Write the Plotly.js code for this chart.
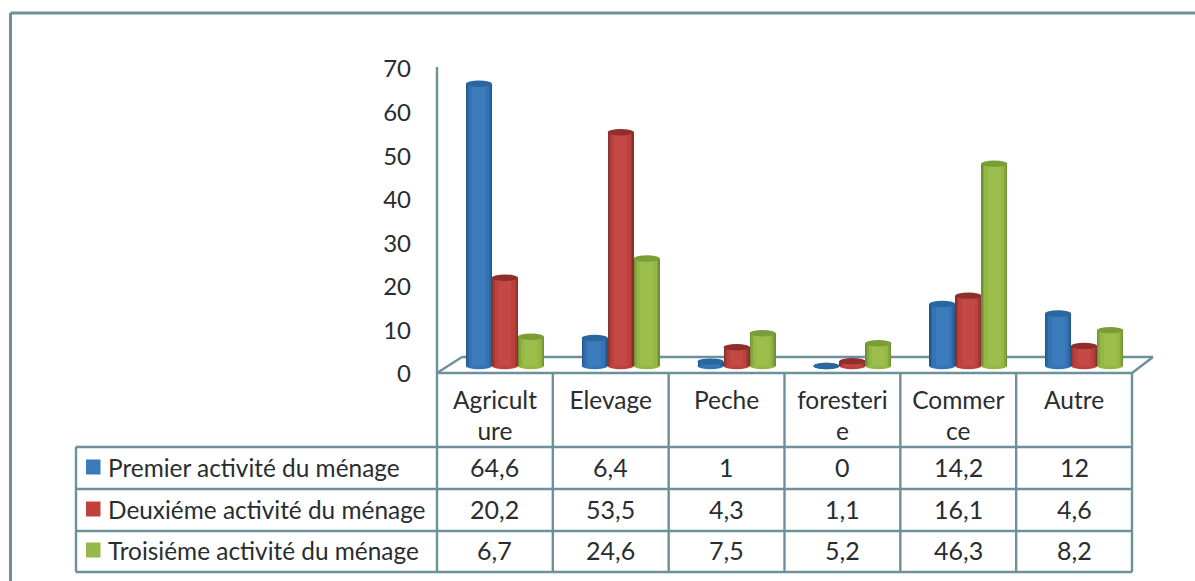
<!DOCTYPE html>
<html>
<head>
<meta charset="utf-8">
<script src="https://cdn.plot.ly/plotly-3.0.1.min.js"></script>
<style>html,body{margin:0;padding:0;background:#fff}#chart{width:1195px;height:581px}</style>
</head>
<body>
<div id="chart"></div>
<script>
// ---- chart data ----
const categories = ["Agricult<br>ure", "Elevage", "Peche", "foresteri<br>e", "Commer<br>ce", "Autre"];
const seriesNames = ["Premier activité du ménage", "Deuxiéme activité du ménage", "Troisiéme activité du ménage"];
const premier = [64.6, 6.4, 1, 0, 14.2, 12];
const deuxieme = [20.2, 53.5, 4.3, 1.1, 16.1, 4.6];
const troisieme = [6.7, 24.6, 7.5, 5.2, 46.3, 8.2];
const yTicks = [0, 10, 20, 30, 40, 50, 60, 70];

// ---- styles ----
const edgeBlue = ["#25568a", "#2c66a0", "#3574b4", "#3c7cbd"];
const edgeRed = ["#87302d", "#a53835", "#bb413d", "#c44844"];
const edgeGreen = ["#6f9134", "#84a73c", "#94b845", "#9bbf4a"];
const capColors = ["#2a66a0", "#8f2f2c", "#7a9e37"];
const swatches = ["#3a7abb", "#c0403c", "#96ba47"];
const lineColor = "#6d909b";
const textColor = "#2a2d2f";
const fontFamily = "Lato, sans-serif";

// ---- geometry helpers (pixel to paper) ----
const L = 437, R = 1132, T = 60, B = 380;
const X = p => (p - L) / (R - L);
const Y = p => (B - p) / (B - T);
const tickScale = 4.357, tickZeroPx = 374;
const pxPerUnit = 4.37, barZeroPx = 366;
const catW = (R - L) / 6;
const barW = 26 / catW;
const groupShift = 10 / catW;

const xIdx = categories.map((_, i) => i);
const seriesVals = [premier, deuxieme, troisieme];
const ramps = [edgeBlue, edgeRed, edgeGreen];
const layerFrac = [1, 0.9, 0.76, 0.5];

const traces = [{
  x: xIdx, y: xIdx.map(() => 0), type: "scatter", mode: "markers",
  marker: {opacity: 0, size: 1}, xaxis: "x", yaxis: "y", showlegend: false, hoverinfo: "skip"
}];

const floorLine = (x0, y0, x1, y1, w) => ({
  type: "line", xref: "paper", yref: "paper", layer: "below",
  x0: X(x0), y0: Y(y0), x1: X(x1), y1: Y(y1),
  line: {color: lineColor, width: w || 2.4}
});

const shapes = [
  floorLine(10.5, 13, 1195, 13, 3),
  floorLine(10.5, 13, 10.5, 581, 3),
  floorLine(437, 67, 437, 373),
  floorLine(437, 373, 1132, 373),
  floorLine(437, 373, 462, 357),
  floorLine(462, 357, 1153, 357),
  floorLine(1132, 373, 1153, 357),
  floorLine(76, 447, 1132, 447),
  floorLine(76, 489, 1132, 489),
  floorLine(76, 531, 1132, 531),
  floorLine(76, 572, 1132, 572),
  floorLine(76, 447, 76, 572)
];
for (let i = 0; i <= 6; i++) {
  const vx = L + i * catW;
  shapes.push(floorLine(vx, 373, vx, 572));
}

const capHalfX = 0.5 * barW;
const capHalfY = 3.2 / pxPerUnit;
seriesVals.forEach((vals, s) => {
  const center = i => i + groupShift + (s - 1) * barW;
  layerFrac.forEach((f, k) => {
    traces.push({
      type: "bar", x: xIdx, y: vals, xaxis: "x", yaxis: "y2",
      width: xIdx.map(() => barW * f),
      offset: xIdx.map(() => groupShift + (s - 1) * barW - barW * f / 2),
      marker: {color: ramps[s][k], line: {width: 0}},
      name: seriesNames[s], showlegend: false, hoverinfo: k === 0 ? "y+name" : "skip"
    });
  });
  vals.forEach((v, i) => {
    shapes.push({
      type: "circle", xref: "x", yref: "y2", layer: "below",
      x0: center(i) - capHalfX, x1: center(i) + capHalfX,
      y0: -capHalfY, y1: capHalfY,
      fillcolor: ramps[s][2], line: {width: 0}
    });
    shapes.push({
      type: "circle", xref: "x", yref: "y2", layer: "above",
      x0: center(i) - capHalfX, x1: center(i) + capHalfX,
      y0: v - capHalfY, y1: v + capHalfY,
      fillcolor: capColors[s], line: {width: 0}
    });
  });
});

const annotations = [];
const rowY = [467, 509, 550];
seriesNames.forEach((name, s) => {
  shapes.push({
    type: "rect", xref: "paper", yref: "paper", layer: "above",
    x0: X(86), x1: X(100.5), y0: Y(rowY[s] - 7.5), y1: Y(rowY[s] + 7.5),
    fillcolor: swatches[s], line: {width: 0}
  });
  annotations.push({
    xref: "paper", yref: "paper", x: X(106), y: Y(rowY[s]),
    xanchor: "left", yanchor: "middle", showarrow: false, text: name,
    font: {family: fontFamily, size: 24.4, color: textColor}
  });
  seriesVals[s].forEach((v, i) => {
    annotations.push({
      xref: "paper", yref: "paper", x: X(L + (i + 0.5) * catW), y: Y(rowY[s]),
      xanchor: "center", yanchor: "middle", showarrow: false,
      text: String(v).replace(".", ","),
      font: {family: fontFamily, size: 25, color: textColor}
    });
  });
});

const layout = {
  width: 1195, height: 581,
  margin: {l: L, r: 1195 - R, t: T, b: 581 - B, pad: 0},
  paper_bgcolor: "#ffffff", plot_bgcolor: "rgba(0,0,0,0)",
  barmode: "overlay", showlegend: false, bargap: 0,
  font: {family: fontFamily, color: textColor},
  xaxis: {
    range: [-0.5, 5.5], tickmode: "array", tickvals: xIdx, ticktext: categories,
    showgrid: false, zeroline: false, showline: false, ticks: "",
    tickangle: 0, ticklabelstandoff: 3, ticklabelposition: "outside",
    tickfont: {family: fontFamily, size: 24.5, color: textColor}, fixedrange: true
  },
  yaxis: {
    range: [(tickZeroPx - B) / tickScale, (tickZeroPx - T) / tickScale],
    tickmode: "array", tickvals: yTicks, ticktext: yTicks.map(String),
    showgrid: false, zeroline: false, showline: false, ticks: "",
    ticklabelstandoff: 25,
    tickfont: {family: fontFamily, size: 24, color: textColor}, fixedrange: true
  },
  yaxis2: {
    range: [(barZeroPx - B) / pxPerUnit, (barZeroPx - T) / pxPerUnit],
    overlaying: "y", side: "left", showticklabels: false,
    showgrid: false, zeroline: false, showline: false, ticks: "", fixedrange: true
  },
  shapes: shapes,
  annotations: annotations
};

Plotly.newPlot("chart", traces, layout, {displayModeBar: false, staticPlot: true});
</script>
</body>
</html>
